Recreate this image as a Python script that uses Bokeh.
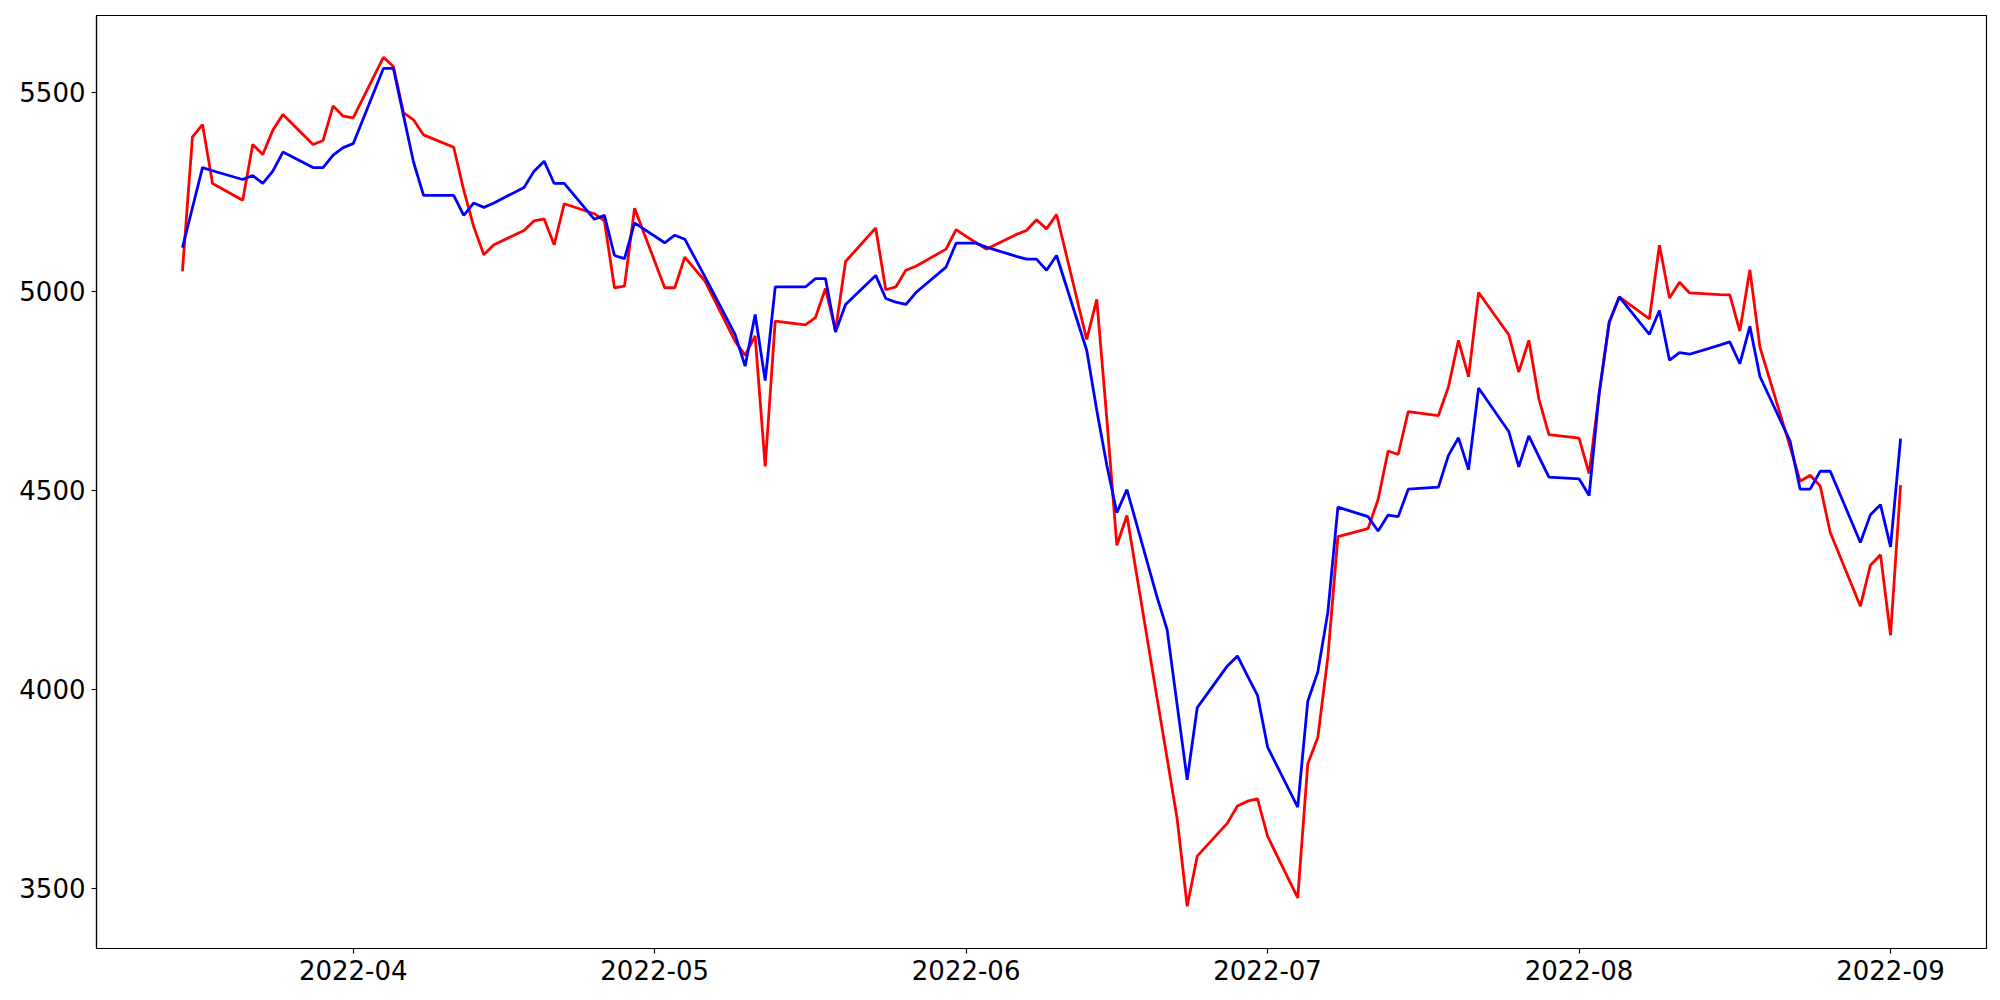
from datetime import datetime
from bokeh.plotting import figure
from bokeh.models import Range1d, SingleIntervalTicker, MonthsTicker, DatetimeTickFormatter, ColumnDataSource
from bokeh.embed import file_html
from bokeh.resources import INLINE

dates = [
    "2022-03-15", "2022-03-16", "2022-03-17", "2022-03-18", "2022-03-21", "2022-03-22", "2022-03-23",
    "2022-03-24", "2022-03-25", "2022-03-28", "2022-03-29", "2022-03-30", "2022-03-31", "2022-04-01",
    "2022-04-04", "2022-04-05", "2022-04-06", "2022-04-07", "2022-04-08", "2022-04-11", "2022-04-12",
    "2022-04-13", "2022-04-14", "2022-04-15", "2022-04-18", "2022-04-19", "2022-04-20", "2022-04-21",
    "2022-04-22", "2022-04-25", "2022-04-26", "2022-04-27", "2022-04-28", "2022-04-29", "2022-05-02",
    "2022-05-03", "2022-05-04", "2022-05-05", "2022-05-06", "2022-05-09", "2022-05-10", "2022-05-11",
    "2022-05-12", "2022-05-13", "2022-05-16", "2022-05-17", "2022-05-18", "2022-05-19", "2022-05-20",
    "2022-05-23", "2022-05-24", "2022-05-25", "2022-05-26", "2022-05-27", "2022-05-30", "2022-05-31",
    "2022-06-01", "2022-06-02", "2022-06-03", "2022-06-06", "2022-06-07", "2022-06-08", "2022-06-09",
    "2022-06-10", "2022-06-13", "2022-06-14", "2022-06-15", "2022-06-16", "2022-06-17", "2022-06-20",
    "2022-06-21", "2022-06-22", "2022-06-23", "2022-06-24", "2022-06-27", "2022-06-28", "2022-06-29",
    "2022-06-30", "2022-07-01", "2022-07-04", "2022-07-05", "2022-07-06", "2022-07-07", "2022-07-08",
    "2022-07-11", "2022-07-12", "2022-07-13", "2022-07-14", "2022-07-15", "2022-07-18", "2022-07-19",
    "2022-07-20", "2022-07-21", "2022-07-22", "2022-07-25", "2022-07-26", "2022-07-27", "2022-07-28",
    "2022-07-29", "2022-08-01", "2022-08-02", "2022-08-03", "2022-08-04", "2022-08-05", "2022-08-08",
    "2022-08-09", "2022-08-10", "2022-08-11", "2022-08-12", "2022-08-15", "2022-08-16", "2022-08-17",
    "2022-08-18", "2022-08-19", "2022-08-22", "2022-08-23", "2022-08-24", "2022-08-25", "2022-08-26",
    "2022-08-29", "2022-08-30", "2022-08-31", "2022-09-01", "2022-09-02",
]

red_values = [
    5050, 5388, 5419, 5271, 5229, 5369, 5344,
    5405, 5444, 5369, 5379, 5466, 5440, 5436,
    5588, 5565, 5449, 5431, 5393, 5362, 5254,
    5162, 5092, 5117, 5153, 5177, 5182, 5117,
    5220, 5195, 5177, 5009, 5013, 5209, 5009,
    5009, 5086, 5056, 5026, 4875, 4839, 4888,
    4560, 4925, 4916, 4934, 5007, 4902, 5075,
    5159, 5004, 5011, 5053, 5063, 5106, 5155,
    5138, 5122, 5106, 5143, 5153, 5180, 5157,
    5193, 4879, 4980, 4680, 4362, 4437, 3978,
    3827, 3675, 3455, 3581, 3664, 3707, 3719,
    3725, 3631, 3476, 3813, 3879, 4081, 4384,
    4404, 4477, 4599, 4590, 4698, 4688, 4760,
    4877, 4785, 4997, 4891, 4797, 4877, 4730,
    4640, 4631, 4542, 4743, 4921, 4986, 4931,
    5116, 4983, 5023, 4996, 4992, 4991, 4900,
    5054, 4860, 4610, 4523, 4538, 4511, 4394,
    4209, 4312, 4338, 4136, 4513,
]

blue_values = [
    5110, 5210, 5311, 5303, 5281, 5291, 5271,
    5302, 5350, 5311, 5311, 5342, 5361, 5371,
    5560, 5560, 5442, 5325, 5241, 5241, 5191,
    5222, 5211, 5222, 5261, 5302, 5327, 5271,
    5271, 5181, 5191, 5090, 5082, 5172, 5122,
    5141, 5131, 5084, 5037, 4892, 4812, 4942,
    4776, 5011, 5011, 5032, 5032, 4898, 4967,
    5040, 4982, 4973, 4967, 4997, 5061, 5121,
    5121, 5121, 5111, 5088, 5081, 5081, 5053,
    5090, 4852, 4701, 4563, 4444, 4502, 4232,
    4150, 3961, 3773, 3954, 4059, 4084, 4034,
    3985, 3855, 3704, 3970, 4044, 4194, 4458,
    4434, 4398, 4438, 4434, 4503, 4508, 4588,
    4632, 4552, 4757, 4648, 4559, 4637, 4585,
    4533, 4529, 4487, 4743, 4923, 4986, 4892,
    4952, 4827, 4846, 4842, 4865, 4873, 4818,
    4912, 4786, 4624, 4503, 4503, 4548, 4548,
    4369, 4439, 4464, 4358, 4630,
]

x = [datetime.strptime(d, "%Y-%m-%d") for d in dates]
src = ColumnDataSource(data=dict(x=x, red=red_values, blue=blue_values))

p = figure(
    width=1992, height=992,
    x_axis_type="datetime",
    x_range=Range1d(datetime(2022, 3, 6, 10, 48), datetime(2022, 9, 10, 13, 12)),
    y_range=Range1d(3349, 5693),
    output_backend="svg", toolbar_location=None,
    min_border_left=96, min_border_right=6, min_border_top=15, min_border_bottom=44,
)

p.line("x", "red", source=src, line_color="#ff0000", line_width=2.8)
p.line("x", "blue", source=src, line_color="#0000ff", line_width=2.8)

p.grid.visible = False
p.outline_line_color = "black"
p.outline_line_width = 1.2
p.background_fill_color = "white"
p.border_fill_color = "white"

p.xaxis.ticker = MonthsTicker(months=list(range(1, 13)))
p.xaxis.formatter = DatetimeTickFormatter(
    months="%Y-%m", days="%Y-%m", years="%Y-%m", hours="%Y-%m", minutes="%Y-%m",
    seconds="%Y-%m", milliseconds="%Y-%m", microseconds="%Y-%m", hourmin="%Y-%m", minsec="%Y-%m",
)
p.yaxis.ticker = SingleIntervalTicker(interval=500)

for ax in (p.xaxis[0], p.yaxis[0]):
    ax.major_label_text_font = "DejaVu Sans"
    ax.major_label_text_font_size = "26px"
    ax.major_label_text_color = "black"
    ax.major_tick_in = 0
    ax.major_tick_out = 5
    ax.minor_tick_in = 0
    ax.minor_tick_out = 0
    ax.axis_line_color = "black"
    ax.axis_line_width = 1.2
    ax.major_tick_line_color = "black"
    ax.major_tick_line_width = 1.2
    ax.major_label_standoff = 6

open("out.html", "w").write(file_html(p, INLINE))
